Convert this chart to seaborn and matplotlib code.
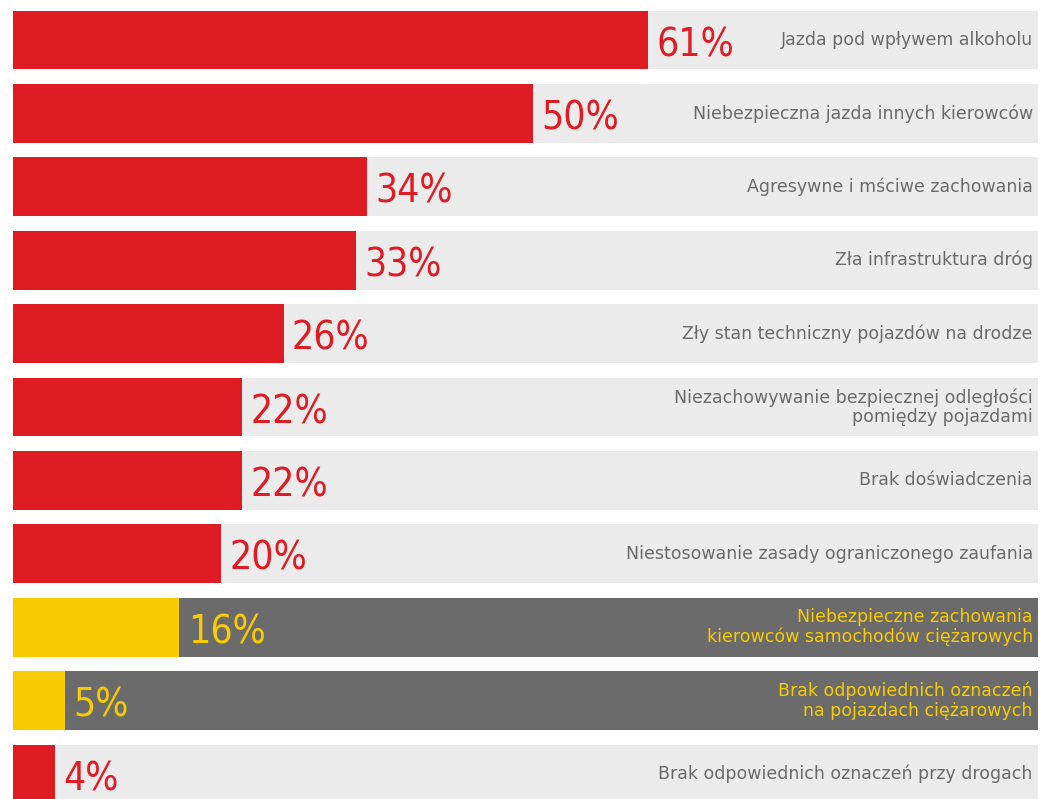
import matplotlib
matplotlib.use("Agg")
import matplotlib.pyplot as plt
import seaborn as sns
import pandas as pd

categories = [
    "Jazda pod wpływem alkoholu",
    "Niebezpieczna jazda innych kierowców",
    "Agresywne i mściwe zachowania",
    "Zła infrastruktura dróg",
    "Zły stan techniczny pojazdów na drodze",
    "Niezachowywanie bezpiecznej odległości\npomiędzy pojazdami",
    "Brak doświadczenia",
    "Niestosowanie zasady ograniczonego zaufania",
    "Niebezpieczne zachowania\nkierowców samochodów ciężarowych",
    "Brak odpowiednich oznaczeń\nna pojazdach ciężarowych",
    "Brak odpowiednich oznaczeń przy drogach",
]
values = [61, 50, 34, 33, 26, 22, 22, 20, 16, 5, 4]
groups = ["general"] * 8 + ["truck"] * 2 + ["general"]

RED = "#df1b23"
YELLOW = "#f8cb00"
LIGHT = "#ebebeb"
DARK = "#6b6b6b"
GRAYTXT = "#6a6a6a"

XMAX = 98.5
df = pd.DataFrame({"cat": categories, "val": values, "grp": groups})
df["full"] = XMAX

sns.set_theme(style="white")
plt.rcParams["font.family"] = ["DejaVu Sans"]

fig = plt.figure(figsize=(10.45, 7.99), dpi=100)
ax = fig.add_axes([0.0124, 0, 0.9809, 1])

bg_colors = [LIGHT if g == "general" else DARK for g in groups]
fg_colors = [RED if g == "general" else YELLOW for g in groups]

sns.barplot(data=df, y="cat", x="full", hue="cat", palette=bg_colors,
            legend=False, orient="h", width=0.8, ax=ax, saturation=1,
            linewidth=0)
sns.barplot(data=df, y="cat", x="val", hue="cat", palette=fg_colors,
            legend=False, orient="h", width=0.8, ax=ax, saturation=1,
            linewidth=0)

for i, (c, v, g) in enumerate(zip(categories, values, groups)):
    col = RED if g == "general" else YELLOW
    ax.text(v + 0.8, i + 0.07, f"{v}%", color=col, fontsize=28,
            va="center", ha="left", fontstretch="condensed")
    tcol = GRAYTXT if g == "general" else YELLOW
    ax.text(XMAX - 0.5, i, c, color=tcol, fontsize=12.5, va="center",
            ha="right", multialignment="right", linespacing=1.1)

ax.set_xlim(0, XMAX)
ax.set_ylim(10.34, -0.545)
ax.set_axis_off()
fig.savefig("out.png", dpi=100)
